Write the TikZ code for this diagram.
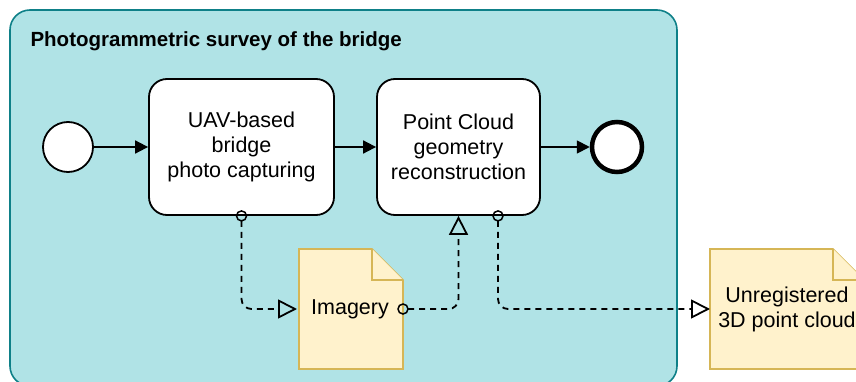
\documentclass[tikz,border=0pt]{standalone}
\usepackage{fontspec}
\setmainfont{Liberation Sans}
\usetikzlibrary{arrows.meta}

\definecolor{poolfill}{HTML}{B0E3E6}
\definecolor{poolline}{HTML}{0E8088}
\definecolor{docfill}{HTML}{FFF2CC}
\definecolor{docline}{HTML}{D6B656}

\begin{document}
\begin{tikzpicture}[x=1pt,y=-1pt,
		txt/.style={font=\fontsize{21.5}{25}\selectfont, align=center},
		task/.style={txt, draw, fill=white, line width=1.8pt, rounded corners=18pt, minimum height=136pt},
		event/.style={circle, draw, fill=white, line width=1.8pt, minimum size=50pt},
		doc/.style={fill=docfill, draw=docline, line width=1.6pt, line join=miter},
		flow/.style={line width=1.8pt, -{Triangle[length=13pt,width=13pt]}},
		assoc/.style={line width=1.8pt, dash pattern=on 6pt off 5pt, rounded corners=10pt,
			-{Triangle[open,length=19pt,width=19pt]}},
		marker/.style={line width=1.5pt}]
				\useasboundingbox (0,0) rectangle (856,382);
				
				% pool
				\filldraw[fill=poolfill, draw=poolline, line width=1.6pt, rounded corners=20pt] (10,10) rectangle (677,386);
				\node[anchor=west, font=\bfseries\fontsize{20.5}{24}\selectfont] (title) at (27,41) {Photogrammetric survey of the bridge};
				
				% dokumentumok
				\filldraw[doc] (299,249) -- (372,249) -- (403,280) -- (403,369) -- (299,369) -- cycle;
				\draw[doc] (372,249) -- (372,280) -- (403,280);
				\filldraw[doc] (710,249) -- (833,249) -- (864,280) -- (864,369) -- (710,369) -- cycle;
				\draw[doc] (833,249) -- (833,280) -- (864,280);
				\node[txt, outer sep=0pt, minimum width=104pt, minimum height=120pt] (img) at (350,309) {Imagery};
				\node[txt, outer sep=0pt, minimum width=154pt, minimum height=120pt] (cloud) at (787,309) {Unregistered\\3D point cloud};
				
				% esemenyek, taszkok
				\node[event] (start) at (68,147) {};
				\node[task, minimum width=185pt] (capture) at (241.5,147) {UAV-based\\bridge\\photo capturing};
				\node[task, minimum width=163pt] (recon) at (458.5,147) {Point Cloud\\geometry\\reconstruction};
				\node[event, line width=4.5pt, minimum size=50pt] (end) at (617,147) {};
				\coordinate (reconout) at ([xshift=39.5pt]recon.south);
				
				% sequence flow
				\draw[flow] (start) -- (capture);
				\draw[flow] (capture) -- (recon);
				\draw[flow] (recon) -- (end);
				
				% data association
				\draw[assoc, shorten <=5pt] (capture.south) |- ([xshift=-1pt]img.west);
				\draw[assoc, shorten <=5pt] ([xshift=1pt]img.east) -| (recon.south);
				\draw[assoc, shorten <=5pt] (reconout) |- (cloud.west);
				\draw[marker] (capture.south) circle (5pt);
				\draw[marker] ([xshift=1pt]img.east) circle (5pt);
				\draw[marker] (reconout) circle (5pt);
				
			\end{tikzpicture}
\end{document}
